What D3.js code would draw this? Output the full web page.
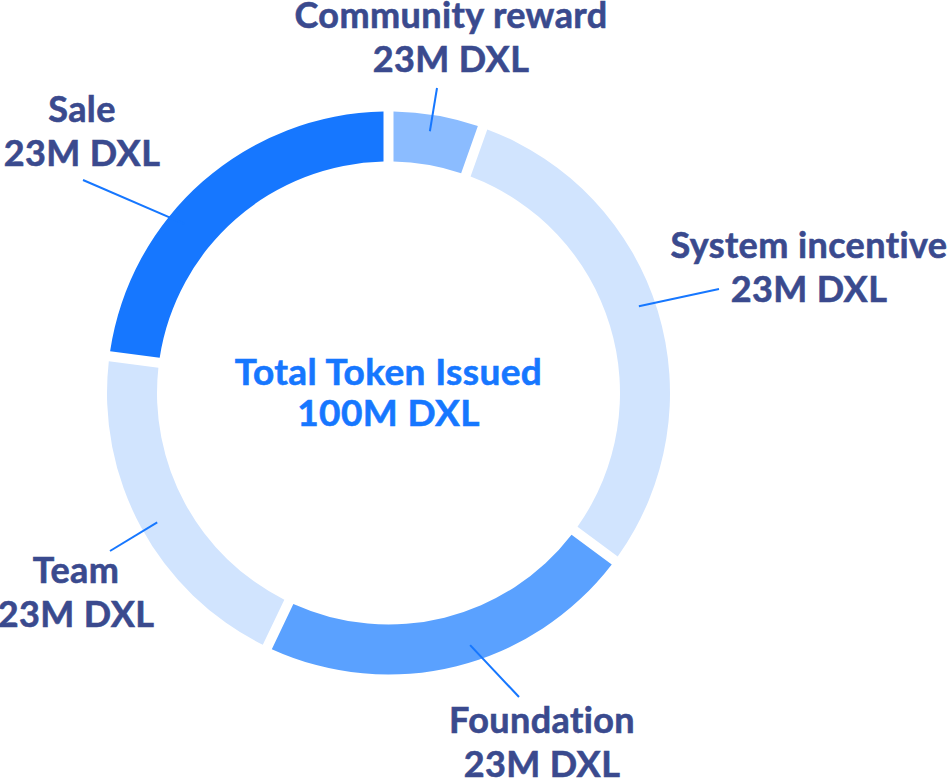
<!DOCTYPE html>
<html>
<head>
<meta charset="utf-8">
<script src="https://cdn.jsdelivr.net/npm/d3@7"></script>
<style>
  html, body { margin: 0; padding: 0; background: #ffffff; }
  svg { display: block; }
  text { font-family: Lato, "Open Sans", sans-serif; font-weight: 700; }
</style>
</head>
<body>
<svg id="chart" width="950" height="780"></svg>
<script>
// ---- data ----
const categories = ["Community reward", "System incentive", "Foundation", "Team", "Sale"];
const shares = [5, 30, 22, 20, 23];
const amountLabels = ["23M DXL", "23M DXL", "23M DXL", "23M DXL", "23M DXL"];
const centerTitle = "Total Token Issued";
const centerAmount = "100M DXL";

// ---- styles ----
const sliceColors = ["#8bbcff", "#d1e4fe", "#5aa1ff", "#d1e4fe", "#1677ff"];
const labelColor = "#3a4a8e";
const accent = "#1677ff";

// ---- layout (label anchor, leader end, leader position along slice) ----
const labelLayout = [
  { x: 451, y: 28,  lx: 437, ly: 88,  t: 0.46 },
  { x: 809, y: 258, lx: 719, ly: 289, t: 0.48 },
  { x: 542, y: 733, lx: 519, ly: 697, t: 0.45 },
  { x: 76,  y: 583, lx: 110, ly: 551, t: 0.49 },
  { x: 82,  y: 122, lx: 83,  ly: 180, t: 0.39 }
];

const W = 950, H = 780;
const cx = 388.5, cy = 393;
const outerR = 281.5, innerR = 231.5;
const gap = 10;

const svg = d3.select("#chart");
const g = svg.append("g").attr("transform", `translate(${cx},${cy})`);

const pie = d3.pie().sort(null).value(d => d).padAngle(gap / outerR);
const arcs = pie(shares);
const arc = d3.arc().innerRadius(innerR).outerRadius(outerR).padRadius(outerR);

g.selectAll("path.slice")
  .data(arcs)
  .join("path")
  .attr("class", "slice")
  .attr("d", arc)
  .attr("fill", (d, i) => sliceColors[i]);

// leader lines
const leaderR = 265;
g.selectAll("line.leader")
  .data(arcs)
  .join("line")
  .attr("class", "leader")
  .each(function (d, i) {
    const L = labelLayout[i];
    const a = d.startAngle + (d.endAngle - d.startAngle) * L.t;
    d3.select(this)
      .attr("x1", Math.sin(a) * leaderR)
      .attr("y1", -Math.cos(a) * leaderR)
      .attr("x2", L.lx - cx)
      .attr("y2", L.ly - cy);
  })
  .attr("stroke", accent)
  .attr("stroke-width", 2);

// labels
const lineGap = 44;
const labels = svg.selectAll("text.label")
  .data(categories)
  .join("text")
  .attr("class", "label")
  .attr("text-anchor", "middle")
  .attr("fill", labelColor)
  .attr("stroke", labelColor)
  .attr("stroke-width", 0.6)
  .attr("letter-spacing", 0.4)
  .attr("font-size", 36);
labels.append("tspan")
  .attr("x", (d, i) => labelLayout[i].x)
  .attr("y", (d, i) => labelLayout[i].y)
  .text(d => d);
labels.append("tspan")
  .attr("x", (d, i) => labelLayout[i].x)
  .attr("y", (d, i) => labelLayout[i].y + lineGap)
  .text((d, i) => amountLabels[i]);

// center text
const center = g.append("text")
  .attr("text-anchor", "middle")
  .attr("fill", accent)
  .attr("stroke", accent)
  .attr("stroke-width", 0.6)
  .attr("letter-spacing", 0.4)
  .attr("font-size", 37);
center.append("tspan").attr("x", 0).attr("y", -8).text(centerTitle);
center.append("tspan").attr("x", 0).attr("y", 33).text(centerAmount);
</script>
</body>
</html>
